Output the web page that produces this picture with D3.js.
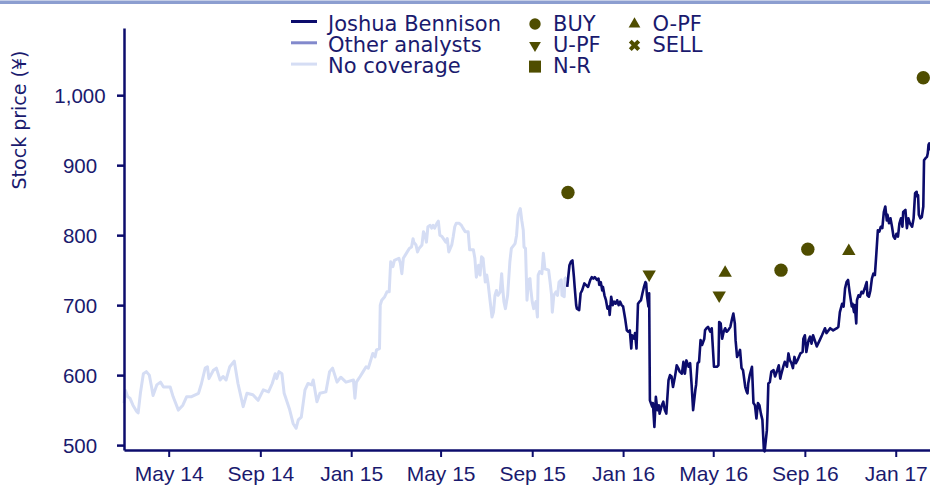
<!DOCTYPE html>
<html>
<head>
<meta charset="utf-8">
<script src="https://cdn.jsdelivr.net/npm/d3@7"></script>
<style>
  body { margin: 0; background: #fff; }
  svg { display: block; font-family: "DejaVu Sans", Verdana, sans-serif; }
</style>
</head>
<body>
<div id="chart"></div>
<script>
// price history before coverage started ("No coverage")
const noCoverage = [
  ['2014-03-02',560],['2014-03-04',578],['2014-03-07',569],['2014-03-10',567],['2014-03-14',557],['2014-03-19',548],
  ['2014-03-21',546],['2014-03-24',574],['2014-03-28',602],['2014-04-01',605],['2014-04-05',600],['2014-04-08',583],
  ['2014-04-10',571],['2014-04-15',586],['2014-04-20',590],['2014-04-24',583],['2014-05-03',583],['2014-05-07',569],
  ['2014-05-14',550],['2014-05-20',557],['2014-05-25',569],['2014-05-31',569],['2014-06-10',574],['2014-06-14',588],
  ['2014-06-19',610],['2014-06-22',612],['2014-06-24',595],['2014-06-30',607],['2014-07-04',610],['2014-07-09',593],
  ['2014-07-13',598],['2014-07-17',593],['2014-07-22',612],['2014-07-28',620],['2014-08-02',588],['2014-08-09',555],
  ['2014-08-14',574],['2014-08-22',572],['2014-08-29',564],['2014-09-05',579],['2014-09-12',576],['2014-09-17',588],
  ['2014-09-21',602],['2014-09-23',595],['2014-09-26',605],['2014-09-30',602],['2014-10-03',574],['2014-10-10',552],
  ['2014-10-15',531],['2014-10-19',524],['2014-10-22',536],['2014-10-26',540],['2014-10-31',579],['2014-11-04',588],
  ['2014-11-09',586],['2014-11-11',593],['2014-11-16',562],['2014-11-20',574],['2014-11-28',576],['2014-12-03',605],
  ['2014-12-07',610],['2014-12-13',590],['2014-12-18',597],['2014-12-25',590],['2015-01-04',593],['2015-01-06',567],
  ['2015-01-08',590],['2015-01-13',598],['2015-01-17',605],['2015-01-21',612],['2015-01-24',610],['2015-01-26',617],
  ['2015-01-28',624],['2015-01-30',631],['2015-02-02',626],['2015-02-04',636],['2015-02-08',638],['2015-02-09',700],
  ['2015-02-11',707],['2015-02-15',712],['2015-02-18',719],['2015-02-21',719],['2015-02-23',762],['2015-02-26',755],
  ['2015-02-28',764],['2015-03-06',767],['2015-03-08',760],['2015-03-10',745],['2015-03-12',767],['2015-03-16',774],
  ['2015-03-20',781],['2015-03-23',783],['2015-03-25',795],['2015-03-26',790],['2015-03-29',786],['2015-03-31',776],
  ['2015-04-02',781],['2015-04-06',786],['2015-04-08',805],['2015-04-10',800],['2015-04-12',790],['2015-04-14',812],
  ['2015-04-17',814],['2015-04-19',810],['2015-04-21',814],['2015-04-23',810],['2015-04-26',817],['2015-04-28',820],
  ['2015-04-30',800],['2015-05-03',798],['2015-05-08',790],['2015-05-10',795],['2015-05-12',776],['2015-05-16',786],
  ['2015-05-18',798],['2015-05-20',812],['2015-05-22',817],['2015-05-26',817],['2015-05-29',814],['2015-05-31',810],
  ['2015-06-03',805],['2015-06-07',805],['2015-06-09',779],['2015-06-14',779],['2015-06-16',767],['2015-06-18',740],
  ['2015-06-21',757],['2015-06-23',743],['2015-06-25',769],['2015-06-27',767],['2015-06-30',733],['2015-07-02',743],
  ['2015-07-04',729],['2015-07-06',710],['2015-07-09',683],['2015-07-11',690],['2015-07-13',714],['2015-07-15',721],
  ['2015-07-17',714],['2015-07-20',719],['2015-07-22',745],['2015-07-23',729],['2015-07-25',705],['2015-07-27',695],
  ['2015-07-30',714],['2015-08-02',762],['2015-08-04',781],['2015-08-09',788],['2015-08-11',800],['2015-08-13',829],
  ['2015-08-16',838],['2015-08-18',821],['2015-08-20',807],['2015-08-21',783],['2015-08-23',781],['2015-08-25',707],
  ['2015-08-27',736],['2015-08-29',738],['2015-08-30',724],['2015-09-01',705],['2015-09-03',695],['2015-09-06',705],
  ['2015-09-08',683],['2015-09-09',743],['2015-09-11',748],['2015-09-14',745],['2015-09-16',774],['2015-09-18',752],
  ['2015-09-23',750],['2015-09-25',733],['2015-09-27',714],['2015-09-28',690],['2015-09-30',714],['2015-10-03',719],
  ['2015-10-05',714],['2015-10-07',733],['2015-10-10',736],['2015-10-11',714],['2015-10-14',712],['2015-10-15',738],
  ['2015-10-17',740]
];

// price history while covered by Joshua Bennison
const joshuaBennison = [
  ['2015-10-18',726],['2015-10-21',757],['2015-10-23',762],['2015-10-25',764],['2015-10-27',740],['2015-10-28',726],
  ['2015-10-30',700],['2015-10-31',695],['2015-11-03',693],['2015-11-05',717],['2015-11-07',721],['2015-11-10',731],
  ['2015-11-12',729],['2015-11-15',726],['2015-11-18',736],['2015-11-20',740],['2015-11-22',738],['2015-11-24',740],
  ['2015-11-27',736],['2015-11-29',738],['2015-11-30',729],['2015-12-02',733],['2015-12-04',721],['2015-12-05',726],
  ['2015-12-07',714],['2015-12-09',707],['2015-12-11',695],['2015-12-13',698],['2015-12-14',686],['2015-12-16',712],
  ['2015-12-18',700],['2015-12-20',705],['2015-12-22',702],['2015-12-24',707],['2015-12-26',700],['2015-12-28',705],
  ['2015-12-30',700],['2016-01-01',698],['2016-01-04',679],['2016-01-06',664],['2016-01-08',662],['2016-01-10',664],
  ['2016-01-12',638],['2016-01-13',657],['2016-01-16',652],['2016-01-17',660],['2016-01-19',638],['2016-01-21',702],
  ['2016-01-23',705],['2016-01-25',707],['2016-01-27',717],['2016-01-29',726],['2016-01-31',733],['2016-02-01',731],
  ['2016-02-02',714],['2016-02-04',698],['2016-02-05',717],['2016-02-06',564],['2016-02-09',555],['2016-02-10',560],
  ['2016-02-12',526],['2016-02-14',569],['2016-02-16',550],['2016-02-18',557],['2016-02-19',545],['2016-02-22',557],
  ['2016-02-24',562],['2016-02-26',550],['2016-02-28',545],['2016-03-02',593],['2016-03-04',600],['2016-03-06',598],
  ['2016-03-08',583],['2016-03-11',600],['2016-03-13',614],['2016-03-15',610],['2016-03-17',605],['2016-03-20',602],
  ['2016-03-22',619],['2016-03-24',602],['2016-03-26',621],['2016-03-29',612],['2016-03-31',617],['2016-04-02',586],
  ['2016-04-04',550],['2016-04-07',579],['2016-04-08',586],['2016-04-10',617],['2016-04-12',619],['2016-04-14',650],
  ['2016-04-16',643],['2016-04-19',652],['2016-04-20',664],['2016-04-22',667],['2016-04-24',669],['2016-04-27',662],
  ['2016-04-29',667],['2016-04-30',648],['2016-05-02',612],['2016-05-06',612],['2016-05-08',614],['2016-05-09',676],
  ['2016-05-11',674],['2016-05-13',652],['2016-05-15',662],['2016-05-17',667],['2016-05-19',662],['2016-05-21',664],
  ['2016-05-24',669],['2016-05-26',679],['2016-05-28',688],['2016-05-30',674],['2016-05-31',650],['2016-06-02',626],
  ['2016-06-05',633],['2016-06-06',636],['2016-06-08',610],['2016-06-10',607],['2016-06-13',583],['2016-06-15',576],
  ['2016-06-16',574],['2016-06-17',588],['2016-06-19',600],['2016-06-22',612],['2016-06-24',560],['2016-06-26',557],
  ['2016-06-28',538],['2016-06-30',560],['2016-07-02',557],['2016-07-04',545],['2016-07-06',536],['2016-07-08',493],
  ['2016-07-09',491],['2016-07-12',521],['2016-07-13',550],['2016-07-14',588],['2016-07-16',590],['2016-07-18',605],
  ['2016-07-21',607],['2016-07-23',598],['2016-07-26',607],['2016-07-28',614],['2016-07-30',595],['2016-07-31',600],
  ['2016-08-03',612],['2016-08-05',619],['2016-08-08',612],['2016-08-10',631],['2016-08-12',621],['2016-08-14',617],
  ['2016-08-16',610],['2016-08-18',626],['2016-08-20',617],['2016-08-22',621],['2016-08-24',626],['2016-08-26',631],
  ['2016-08-29',633],['2016-08-30',652],['2016-09-01',657],['2016-09-03',633],['2016-09-06',650],['2016-09-08',655],
  ['2016-09-10',645],['2016-09-12',657],['2016-09-17',641],['2016-09-21',650],['2016-09-24',657],['2016-09-28',667],
  ['2016-09-30',660],['2016-10-05',667],['2016-10-09',664],['2016-10-14',667],['2016-10-16',669],['2016-10-18',690],
  ['2016-10-21',702],['2016-10-23',698],['2016-10-25',724],['2016-10-27',733],['2016-10-29',736],['2016-10-31',719],
  ['2016-11-03',698],['2016-11-04',702],['2016-11-06',690],['2016-11-07',700],['2016-11-09',674],['2016-11-10',707],
  ['2016-11-12',714],['2016-11-14',712],['2016-11-16',719],['2016-11-18',717],['2016-11-21',726],['2016-11-23',733],
  ['2016-11-24',714],['2016-11-26',712],['2016-11-28',721],['2016-11-30',738],['2016-12-02',745],['2016-12-04',743],
  ['2016-12-06',774],['2016-12-08',807],['2016-12-10',805],['2016-12-12',812],['2016-12-14',810],['2016-12-16',833],
  ['2016-12-18',841],['2016-12-20',821],['2016-12-21',829],['2016-12-23',817],['2016-12-25',824],['2016-12-27',812],
  ['2016-12-29',798],['2016-12-31',795],['2017-01-02',802],['2017-01-04',798],['2017-01-06',817],['2017-01-08',824],
  ['2017-01-10',812],['2017-01-11',833],['2017-01-14',836],['2017-01-16',810],['2017-01-18',824],['2017-01-20',817],
  ['2017-01-23',812],['2017-01-25',824],['2017-01-27',860],['2017-01-29',862],['2017-01-30',855],['2017-01-31',857],
  ['2017-02-01',829],['2017-02-03',824],['2017-02-05',826],['2017-02-07',841],['2017-02-08',907],['2017-02-10',910],
  ['2017-02-12',912],['2017-02-13',917],['2017-02-14',929],['2017-02-15',931],['2017-02-16',921]
];

// rating changes
const ratingDates  = ['2015-10-19', '2016-02-05', '2016-05-09', '2016-05-17', '2016-07-31', '2016-09-05', '2016-10-30', '2017-02-07'];
const ratingTypes  = ['BUY', 'U-PF', 'U-PF', 'O-PF', 'BUY', 'BUY', 'O-PF', 'BUY'];
const ratingPrices = [861, 744, 714, 746, 750, 780, 777, 1025];

const xDomain = ['2014-03-02', '2017-02-16'];
const yDomain = [493, 1096];
const yTickValues = [500, 600, 700, 800, 900, 1000];
const yTitle = 'Stock price (¥)';
const lineLegend = ['Joshua Bennison', 'Other analysts', 'No coverage'];
const ratingLegend = [['BUY', 'U-PF', 'N-R'], ['O-PF', 'SELL']];

class PriceChart {
  constructor(_config) {
    this.config = {
      parentElement: _config.parentElement,
      containerWidth: 930,
      containerHeight: 490,
      plot: {left: 124, right: 930, top: 28, bottom: 450},
      navy: '#0c0c6c',
      textColor: '#1a1a6e',
      lineColors: ['#0c0c6c', '#8289cc', '#d5ddf4'],
      markerColor: '#4f4d00',
      borderColor: '#8c9ed0'
    };
    this.initVis();
  }

  initVis() {
    let vis = this;
    const c = vis.config;

    vis.svg = d3.select(c.parentElement).append('svg')
        .attr('width', c.containerWidth)
        .attr('height', c.containerHeight);

    vis.parse = d3.timeParse('%Y-%m-%d');
    vis.x = d3.scaleTime()
        .domain(xDomain.map(vis.parse))
        .range([c.plot.left, c.plot.right]);
    vis.y = d3.scaleLinear()
        .domain(yDomain)
        .range([c.plot.bottom, c.plot.top]);

    // thin band along the top edge
    vis.svg.append('rect')
        .attr('x', 0).attr('y', 0.5)
        .attr('width', c.containerWidth).attr('height', 3.5)
        .attr('fill', c.borderColor);

    vis.symbolFor = {
      'BUY': d3.symbolCircle,
      'U-PF': d3.symbolTriangle,
      'O-PF': d3.symbolTriangle,
      'N-R': d3.symbolSquare,
      'SELL': d3.symbolCross
    };
    vis.rotationFor = {'U-PF': 180, 'SELL': 45};

    vis.renderVis();
  }

  renderVis() {
    let vis = this;
    const c = vis.config;

    const line = d3.line()
        .x(d => vis.x(vis.parse(d[0])))
        .y(d => vis.y(d[1]));

    vis.svg.append('path')
        .datum(noCoverage)
        .attr('fill', 'none')
        .attr('stroke', c.lineColors[2])
        .attr('stroke-width', 3)
        .attr('stroke-linejoin', 'round')
        .attr('d', line);

    vis.svg.append('path')
        .datum(joshuaBennison)
        .attr('fill', 'none')
        .attr('stroke', c.lineColors[0])
        .attr('stroke-width', 2.6)
        .attr('stroke-linejoin', 'round')
        .attr('d', line);

    // rating markers
    const ratings = ratingDates.map((d, i) => ({date: vis.parse(d), type: ratingTypes[i], price: ratingPrices[i]}));
    vis.svg.selectAll('.rating')
        .data(ratings)
      .join('path')
        .attr('class', 'rating')
        .attr('fill', c.markerColor)
        .attr('transform', d => `translate(${vis.x(d.date)},${vis.y(d.price)}) rotate(${vis.rotationFor[d.type] || 0})`)
        .attr('d', d => d3.symbol(vis.symbolFor[d.type], d.type === 'BUY' ? 141 : 78)());

    // y axis
    const yAxis = d3.axisLeft(vis.y)
        .tickValues(yTickValues)
        .tickFormat(d3.format(','))
        .tickSize(7)
        .tickSizeOuter(0);
    const yAxisG = vis.svg.append('g')
        .attr('transform', `translate(${c.plot.left},0)`)
        .call(yAxis);
    yAxisG.select('.domain').attr('stroke', c.navy).attr('stroke-width', 2.5);
    yAxisG.selectAll('.tick line').attr('stroke', c.navy).attr('stroke-width', 2.5);
    yAxisG.selectAll('.tick text')
        .attr('x', -44)
        .attr('dy', '0.36em')
        .attr('text-anchor', 'middle')
        .attr('fill', c.textColor)
        .style('font-size', '20.5px');

    // x axis
    const xAxis = d3.axisBottom(vis.x)
        .ticks(d3.timeMonth.every(4))
        .tickFormat(d3.timeFormat('%b %y'))
        .tickSize(7)
        .tickSizeOuter(0);
    const xAxisG = vis.svg.append('g')
        .attr('transform', `translate(0,${c.plot.bottom})`)
        .call(xAxis);
    xAxisG.select('.domain').attr('stroke', c.navy).attr('stroke-width', 2.5);
    xAxisG.selectAll('.tick line').attr('stroke', c.navy).attr('stroke-width', 2);
    xAxisG.selectAll('.tick text')
        .attr('y', 16.5)
        .attr('fill', c.textColor)
        .style('font-size', '21px');

    // axis title
    vis.svg.append('text')
        .attr('transform', `translate(26,120) rotate(-90)`)
        .attr('text-anchor', 'middle')
        .attr('fill', c.textColor)
        .style('font-size', '19px')
        .text(yTitle);

    // legend: line series
    const legend = vis.svg.append('g').attr('class', 'legend');
    const rowY = i => 23.5 + i * 21.3;

    legend.selectAll('.legend-line')
        .data(lineLegend)
      .join('line')
        .attr('class', 'legend-line')
        .attr('x1', 291).attr('x2', 317)
        .attr('y1', (d, i) => rowY(i) - 2).attr('y2', (d, i) => rowY(i) - 2)
        .attr('stroke', (d, i) => c.lineColors[i])
        .attr('stroke-width', 3);

    legend.selectAll('.legend-label')
        .data(lineLegend)
      .join('text')
        .attr('class', 'legend-label')
        .attr('x', 328)
        .attr('y', (d, i) => rowY(i))
        .attr('dy', '0.35em')
        .attr('fill', c.textColor)
        .style('font-size', '21px')
        .text(d => d);

    // legend: rating symbols, two columns
    const colX = [535, 634.5];
    ratingLegend.forEach((col, ci) => {
      const g = legend.append('g');
      g.selectAll('path')
          .data(col)
        .join('path')
          .attr('fill', c.markerColor)
          .attr('transform', (d, i) => `translate(${colX[ci]},${rowY(i) + 0.5}) rotate(${vis.rotationFor[d] || 0})`)
          .attr('d', d => {
            const size = d === 'N-R' ? 144 : d === 'BUY' ? 102 : d === 'SELL' ? 80 : 60;
            return d3.symbol(vis.symbolFor[d], size)();
          });
      g.selectAll('text')
          .data(col)
        .join('text')
          .attr('x', colX[ci] + 18)
          .attr('y', (d, i) => rowY(i))
          .attr('dy', '0.35em')
          .attr('fill', c.textColor)
          .style('font-size', '21px')
          .text(d => d);
    });
  }
}

new PriceChart({parentElement: '#chart'});
</script>
</body>
</html>
